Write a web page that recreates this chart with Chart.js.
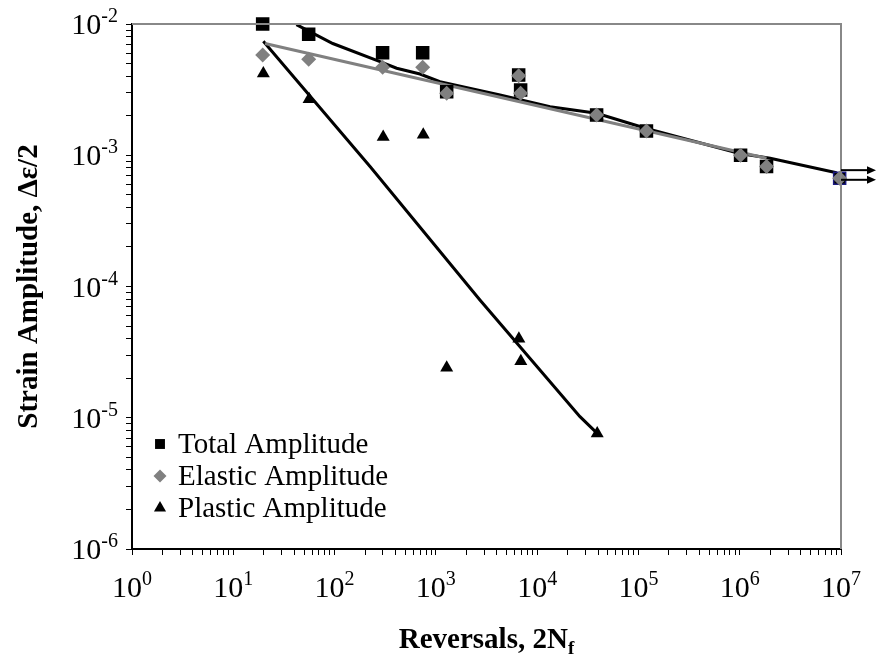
<!DOCTYPE html>
<html>
<head>
<meta charset="utf-8">
<script src="https://cdn.jsdelivr.net/npm/chart.js@4.4.1/dist/chart.umd.min.js"></script>
<style>
  html, body { margin: 0; padding: 0; background: #fff; }
</style>
</head>
<body>
<canvas id="chart" width="876" height="661"></canvas>
<script>
// measured points (reversals 2Nf)
const reversals = [19.5, 55.5, 298, 741, 1279, 6570, 6870, 38650, 120000, 1020000, 1840000, 9700000];
const totalAmp = [1.0e-2, 8.35e-3, 6.04e-3, 6.04e-3, 3.05e-3, 4.08e-3, 3.14e-3, 2.03e-3, 1.53e-3, 1.0e-3, 8.2e-4, 6.67e-4];
const elasticAmp = [5.8e-3, 5.38e-3, 4.68e-3, 4.68e-3, 2.97e-3, 4.03e-3, 2.97e-3, 2.03e-3, 1.53e-3, 1.0e-3, 8.2e-4, 6.67e-4];

const plasticRev = [19.8, 56, 302, 751, 1279, 6600, 6900, 39200];
const plasticAmp = [4.2e-3, 2.67e-3, 1.38e-3, 1.43e-3, 2.4e-5, 4.0e-5, 2.7e-5, 7.6e-6];

// fitted curves
const totalFitX = [42, 96, 281, 410, 697, 1097, 4300, 13400, 38650, 120000, 1000000, 2000000, 9040000];
const totalFitY = [9.9e-3, 7.1e-3, 5.16e-3, 4.6e-3, 4.16e-3, 3.63e-3, 2.88e-3, 2.34e-3, 2.09e-3, 1.6e-3, 1.03e-3, 9.5e-4, 7.36e-4];
const elasticFitX = [20.6, 1840000];
const elasticFitY = [7.1e-3, 9.5e-4];
const plasticFitX = [19.8, 224, 2724, 26480, 39200];
const plasticFitY = [7.4e-3, 8.2e-4, 7.9e-5, 1.02e-5, 7.6e-6];

// run-outs at 10^7
const runoutY = [7.7e-4, 6.5e-4];

const xExps = [0, 1, 2, 3, 4, 5, 6, 7];
const yExps = [-6, -5, -4, -3, -2];

const SERIF = '"Liberation Serif", "Times New Roman", serif';

function pairs(xs, ys) {
    return xs.map((x, i) => ({ x: x, y: ys[i] }));
}

function logTicks(exps) {
    let out = [];
    exps.forEach((e, i) => {
        out.push({ value: Math.pow(10, e) });
        if (i < exps.length - 1) {
            for (let m = 2; m <= 9; m++) out.push({ value: m * Math.pow(10, e) });
        }
    });
    return out;
}

function drawPow(ctx, x, y, exp, align) {
    ctx.font = '30px ' + SERIF;
    const bw = ctx.measureText('10').width;
    ctx.font = '20px ' + SERIF;
    const ew = ctx.measureText(exp).width;
    const left = align === 'right' ? x - bw - ew : x - (bw + ew) / 2;
    ctx.textAlign = 'left';
    ctx.textBaseline = 'alphabetic';
    ctx.font = '30px ' + SERIF;
    ctx.fillText('10', left, y);
    ctx.font = '20px ' + SERIF;
    ctx.fillText(exp, left + bw, y - 12);
}

const decorations = {
    id: 'decorations',
    afterDraw(chart) {
        const ctx = chart.ctx;
        const area = chart.chartArea;
        const xs = chart.scales.x;
        const ys = chart.scales.y;
        ctx.save();

        // top and right frame
        ctx.strokeStyle = '#888888';
        ctx.lineWidth = 2;
        ctx.beginPath();
        ctx.moveTo(area.left, area.top);
        ctx.lineTo(area.right, area.top);
        ctx.lineTo(area.right, area.bottom);
        ctx.stroke();

        // tick labels
        ctx.fillStyle = '#000';
        xExps.forEach(e => drawPow(ctx, xs.getPixelForValue(Math.pow(10, e)), area.bottom + 48, String(e), 'center'));
        yExps.forEach(e => drawPow(ctx, area.left - 14, ys.getPixelForValue(Math.pow(10, e)) + 10, String(e), 'right'));

        // x title
        ctx.font = 'bold 29px ' + SERIF;
        const t1 = 'Reversals, 2N';
        const w1 = ctx.measureText(t1).width;
        ctx.font = 'bold 19px ' + SERIF;
        const w2 = ctx.measureText('f').width;
        const tx = (area.left + area.right) / 2 - (w1 + w2) / 2;
        ctx.font = 'bold 29px ' + SERIF;
        ctx.fillText(t1, tx, 648);
        ctx.font = 'bold 19px ' + SERIF;
        ctx.fillText('f', tx + w1, 654);

        // y title
        ctx.save();
        ctx.translate(37, (area.top + area.bottom) / 2);
        ctx.rotate(-Math.PI / 2);
        ctx.font = 'bold 29px ' + SERIF;
        ctx.textAlign = 'center';
        ctx.fillText('Strain Amplitude, \u0394\u03b5/2', 0, 0);
        ctx.restore();

        // run-out arrows
        ctx.strokeStyle = '#000';
        ctx.fillStyle = '#000';
        ctx.lineWidth = 2;
        const x0 = xs.getPixelForValue(Math.pow(10, 7));
        runoutY.forEach(v => {
            const py = ys.getPixelForValue(v);
            ctx.beginPath();
            ctx.moveTo(x0, py);
            ctx.lineTo(x0 + 28, py);
            ctx.stroke();
            ctx.beginPath();
            ctx.moveTo(x0 + 35, py);
            ctx.lineTo(x0 + 26, py - 4);
            ctx.lineTo(x0 + 26, py + 4);
            ctx.closePath();
            ctx.fill();
        });

        // legend
        const items = [
            { label: 'Total Amplitude', style: 'rect', r: 7, color: '#000' },
            { label: 'Elastic Amplitude', style: 'rectRot', r: 6.5, color: '#808080' },
            { label: 'Plastic Amplitude', style: 'triangle', r: 7, color: '#000' }
        ];
        items.forEach((it, i) => {
            const by = 453 + i * 32;
            ctx.fillStyle = it.color;
            ctx.strokeStyle = it.color;
            Chart.helpers.drawPoint(ctx, { pointStyle: it.style, radius: it.r, rotation: 0, borderWidth: 0 }, 160, by - 9);
            ctx.fillStyle = '#000';
            ctx.font = '29px ' + SERIF;
            ctx.textAlign = 'left';
            ctx.fillText(it.label, 178, by);
        });

        ctx.restore();
    }
};

const ctx = document.getElementById('chart').getContext('2d');
new Chart(ctx, {
    type: 'scatter',
    data: {
        datasets: [
            {
                label: 'Elastic Amplitude',
                data: pairs(reversals, elasticAmp),
                pointStyle: 'rectRot', pointRadius: 7.5,
                backgroundColor: '#808080', borderColor: '#808080', borderWidth: 0,
                clip: false
            },
            {
                label: 'Total Amplitude',
                data: pairs(reversals, totalAmp),
                pointStyle: 'rect', pointRadius: 8.5,
                backgroundColor: '#000',
                borderColor: reversals.map((x, i) => i === reversals.length - 1 ? '#1a1a80' : '#000'),
                borderWidth: 1.5,
                clip: false
            },
            {
                label: 'Plastic Amplitude',
                data: pairs(plasticRev, plasticAmp),
                pointStyle: 'triangle', pointRadius: 7.5,
                backgroundColor: '#000', borderColor: '#000', borderWidth: 0,
                clip: false
            },
            {
                label: 'Elastic fit',
                data: pairs(elasticFitX, elasticFitY),
                showLine: true, pointRadius: 0,
                borderColor: '#808080', borderWidth: 3
            },
            {
                label: 'Total fit',
                data: pairs(totalFitX, totalFitY),
                showLine: true, pointRadius: 0,
                borderColor: '#000', borderWidth: 3
            },
            {
                label: 'Plastic fit',
                data: pairs(plasticFitX, plasticFitY),
                showLine: true, pointRadius: 0,
                borderColor: '#000', borderWidth: 3
            }
        ]
    },
    options: {
        responsive: false,
        animation: false,
        layout: { padding: { left: 126, right: 35, top: 24, bottom: 106 } },
        plugins: { legend: { display: false }, tooltip: { enabled: false } },
        scales: {
            x: {
                type: 'logarithmic',
                min: 1, max: 1e7,
                afterBuildTicks: (scale) => { scale.ticks = logTicks(xExps); },
                ticks: { display: false },
                grid: { drawOnChartArea: false, drawTicks: true, tickLength: 6, color: '#000', lineWidth: 1 },
                border: { color: '#000', width: 2 }
            },
            y: {
                type: 'logarithmic',
                min: 1e-6, max: 1e-2,
                afterBuildTicks: (scale) => { scale.ticks = logTicks(yExps); },
                ticks: { display: false },
                grid: { drawOnChartArea: false, drawTicks: true, tickLength: 6, color: '#000', lineWidth: 1 },
                border: { color: '#000', width: 2 }
            }
        }
    },
    plugins: [decorations]
});
</script>
</body>
</html>
